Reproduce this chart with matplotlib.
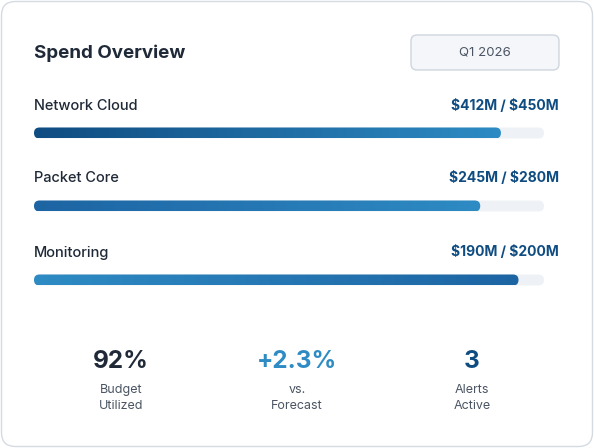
import matplotlib
matplotlib.use("Agg")
import matplotlib.pyplot as plt
import numpy as np
from matplotlib.patches import FancyBboxPatch
from matplotlib.colors import LinearSegmentedColormap

plt.rcParams['font.family'] = ['Inter', 'DejaVu Sans']

categories = ["Network Cloud", "Packet Core", "Monitoring"]
spent = [412, 245, 190]
budget = [450, 280, 200]
grad_colors = [("#0f4c81", "#2e8bc4"), ("#1d64a3", "#2e8bc4"), ("#2e8bc4", "#1d64a3")]
stat_values = ["92%", "+2.3%", "3"]
stat_labels = ["Budget\nUtilized", "vs.\nForecast", "Alerts\nActive"]
stat_colors = ["#1f2937", "#2e8bc4", "#0f4c81"]
period = "Q1 2026"

fig = plt.figure(figsize=(5.94, 4.48), dpi=100)
ax = fig.add_axes([0, 0, 1, 1])
ax.set_xlim(0, 594); ax.set_ylim(448, 0); ax.axis('off')

ax.add_patch(FancyBboxPatch((1.5, 1.5), 591, 445, boxstyle="round,pad=0,rounding_size=14",
                            fc="white", ec="#d5dbe3", lw=1))
ax.text(34, 53, "Spend Overview", fontsize=13.5, fontweight='bold', color="#1f2937", va='center')
ax.add_patch(FancyBboxPatch((411, 35), 148, 35, boxstyle="round,pad=0,rounding_size=6",
                            fc="#f4f6f9", ec="#cfd6df", lw=1))
ax.text(485, 53, period, fontsize=9.5, color="#4b5563", ha='center', va='center')

x0, tw, bh = 34, 510, 11
ys = [133, 206, 280]
for i, (c, s, b) in enumerate(zip(categories, spent, budget)):
    y = ys[i]
    ax.text(34, y - 27.5, c, fontsize=10.5, fontweight='medium', color="#1f2937", va='center')
    ax.text(559, y - 27.5, f"\\${s}M / \\${b}M", fontsize=10, fontweight='bold', color="#0f4c81",
            va='center', ha='right')
    ax.add_patch(FancyBboxPatch((x0, y - bh / 2), tw, bh, boxstyle="round,pad=0,rounding_size=5.5",
                                fc="#eef2f7", ec="none", zorder=1))
    w = tw * s / b
    clip = FancyBboxPatch((x0, y - bh / 2), w, bh, boxstyle="round,pad=0,rounding_size=5.5",
                          fc="none", ec="none", zorder=1)
    ax.add_patch(clip)
    cmap = LinearSegmentedColormap.from_list("g", grad_colors[i])
    im = ax.imshow(np.linspace(0, 1, 256)[None, :], cmap=cmap, aspect='auto',
                   extent=(x0, x0 + w, y + bh / 2, y - bh / 2), interpolation='bilinear', zorder=3)
    im.set_clip_path(clip)

xs = [121, 297, 472]
for x, v, l, col in zip(xs, stat_values, stat_labels, stat_colors):
    ax.text(x, 362, v, fontsize=17.5, fontweight='bold', color=col, ha='center', va='center')
    ax.text(x, 398, l, fontsize=9, color="#4b5563", ha='center', va='center', linespacing=1.45)

ax.set_xlim(0, 594); ax.set_ylim(448, 0)
fig.savefig("out.png", dpi=100)
